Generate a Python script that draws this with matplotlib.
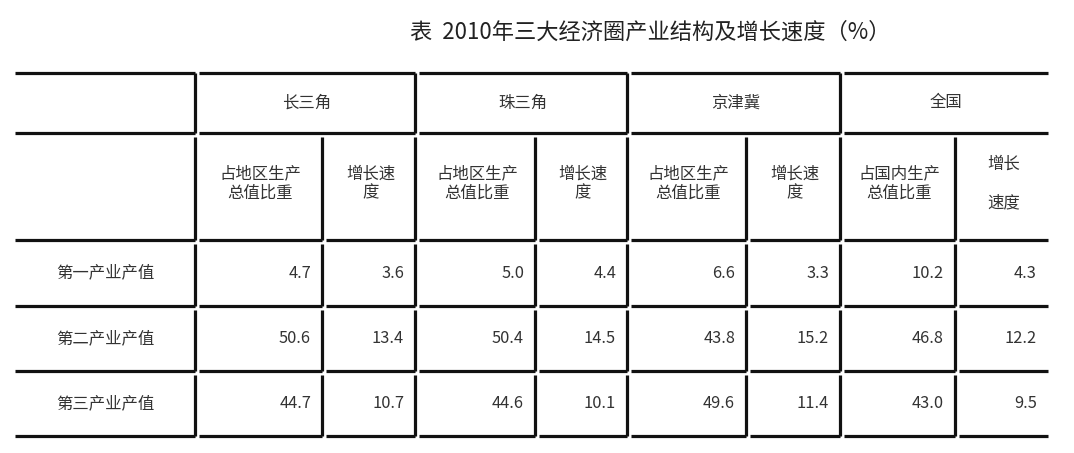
import matplotlib
matplotlib.use("Agg")
import matplotlib.pyplot as plt

plt.rcParams['font.family'] = ['Noto Sans CJK SC', 'DejaVu Sans']

title = "表  2010年三大经济圈产业结构及增长速度（%）"
regions = ["长三角", "珠三角", "京津冀", "全国"]
sub_headers = [["占地区生产\n总值比重", "增长速\n度"],
               ["占地区生产\n总值比重", "增长速\n度"],
               ["占地区生产\n总值比重", "增长速\n度"],
               ["占国内生产\n总值比重", "增长\n\n速度"]]
row_labels = ["第一产业产值", "第二产业产值", "第三产业产值"]
share = [[4.7, 5.0, 6.6, 10.2],
         [50.6, 50.4, 43.8, 46.8],
         [44.7, 44.6, 49.6, 43.0]]
growth = [[3.6, 4.4, 3.3, 4.3],
          [13.4, 14.5, 15.2, 12.2],
          [10.7, 10.1, 11.4, 9.5]]

W, H = 1074, 453
fig = plt.figure(figsize=(W/100, H/100), dpi=100)
ax = fig.add_axes([0, 0, 1, 1])
ax.set_xlim(0, W); ax.set_ylim(H, 0); ax.axis('off')

lw = 2.3; gap = 4; col = '#111111'; tc = '#333333'; fs = 11.8
left, right = 15, 1048
v_region = [195, 415, 627, 840]
v_sub = [322, 535, 746, 955]
ys = [73, 133, 240, 306, 371, 436]

def cell(x0, x1, y0, y1, top=False, rline=True):
    ax.plot([x0, x1], [y1, y1], color=col, lw=lw, solid_capstyle='butt')
    if top:
        ax.plot([x0, x1], [y0, y0], color=col, lw=lw, solid_capstyle='butt')
    if rline:
        ax.plot([x1, x1], [y0 + (0 if top else gap), y1], color=col, lw=lw, solid_capstyle='butt')

ax.text(650, 32, title, ha='center', va='center', fontsize=16, color='#222222')

bounds = [left] + v_region + [right]
for i in range(5):
    x0 = bounds[i] + (gap if i > 0 else 0)
    x1 = bounds[i+1]
    cell(x0, x1, ys[0], ys[1], top=True, rline=(i < 4))
    if i > 0:
        ax.text((x0 + x1)/2, (ys[0]+ys[1])/2, regions[i-1], ha='center', va='center',
                fontsize=fs, color=tc)

sub_bounds = [left]
for r, s in zip(v_region, v_sub):
    sub_bounds += [r, s]
sub_bounds.append(right)

for ri in range(1, 5):
    y0, y1 = ys[ri], ys[ri+1]
    for j in range(9):
        x0 = sub_bounds[j] + (gap if j > 0 else 0)
        x1 = sub_bounds[j+1]
        cell(x0, x1, y0, y1, rline=(j < 8))
        ym = (y0 + y1)/2
        if j == 0:
            if ri > 1:
                ax.text((left + x1)/2, ym, row_labels[ri-2], ha='center', va='center',
                        fontsize=fs, color=tc)
            continue
        k = (j - 1)//2; isg = (j - 1) % 2
        if ri == 1:
            ax.text((x0 + x1)/2, ym - 3, sub_headers[k][isg], ha='center', va='center',
                    fontsize=fs, color=tc, linespacing=1.2)
        else:
            v = (growth if isg else share)[ri-2][k]
            ax.text(x1 - 11, ym, f"{v:.1f}", ha='right', va='center', fontsize=fs, color=tc)

fig.savefig("out.png", dpi=100)
